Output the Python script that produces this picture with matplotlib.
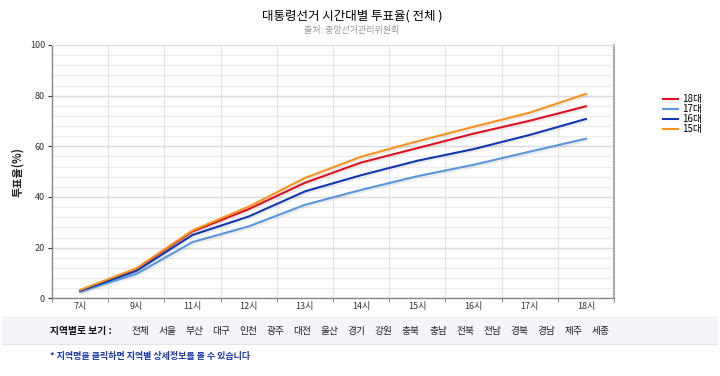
import numpy as np
import matplotlib
matplotlib.use("Agg")
import matplotlib.pyplot as plt
from matplotlib.patches import Rectangle

plt.rcParams['font.family'] = ['Noto Sans CJK KR', 'DejaVu Sans']

hours = ['7시', '9시', '11시', '12시', '13시', '14시', '15시', '16시', '17시', '18시']
t18 = [3.0, 11.6, 26.4, 35.2, 45.6, 53.6, 59.3, 65.0, 70.1, 75.8]
t17 = [2.7, 9.6, 22.2, 28.4, 36.9, 42.8, 48.2, 52.7, 57.9, 63.0]
t16 = [2.9, 10.8, 25.0, 32.3, 42.2, 48.6, 54.3, 58.9, 64.5, 70.8]
t15 = [3.3, 11.8, 26.8, 36.2, 47.5, 55.9, 62.0, 67.7, 73.3, 80.7]
series_names = ['18대', '17대', '16대', '15대']
regions = ['전체', '서울', '부산', '대구', '인천', '광주', '대전', '울산', '경기',
           '강원', '충북', '충남', '전북', '전남', '경북', '경남', '제주', '세종']

colors = ['#dd1122', '#5a96dc', '#1038b0', '#f7941d']

fig = plt.figure(figsize=(7.2, 3.76), dpi=100)
ax = fig.add_axes([52/720, 1-298.3/376, (614-52)/720, (298.3-45)/376])

x = np.arange(len(hours))
for vals, name, c in zip([t18, t17, t16, t15], series_names, colors):
    # faint shadow under each line
    ax.plot(x + 0.03, np.array(vals) - 0.6, color='#000000', alpha=0.07, lw=2.0, zorder=2)
    ax.plot(x, vals, color=c, lw=1.5, label=name, zorder=3)

ax.set_xlim(-0.5, len(hours) - 0.5)
ax.set_ylim(0, 100)
ax.set_yticks(np.arange(0, 101, 20))
ax.set_yticks(np.arange(0, 101, 4), minor=True)
ax.set_xticks(x)
ax.set_xticklabels(hours)
ax.set_xticks(np.arange(-0.5, len(hours), 1), minor=True)

ax.grid(False)
for v in np.arange(0, 101, 4):
    ax.axhline(v, color='#ececec', lw=0.9, zorder=0)
for v in np.arange(0, 101, 20):
    ax.axhline(v, color='#dcdcdc', lw=1.0, zorder=0)
for v in np.arange(0.5, len(hours) - 0.5, 1):
    ax.axvline(v, color='#e6e6e6', lw=1.0, zorder=0)

ax.tick_params(axis='x', which='major', length=0, labelsize=6.5, colors='#333333', pad=3)
ax.tick_params(axis='x', which='minor', length=3, color='#777777', direction='out')
ax.tick_params(axis='y', which='major', length=3, labelsize=6.5, colors='#333333', pad=2)
ax.tick_params(axis='y', which='minor', length=0)

for s in ['left', 'bottom']:
    ax.spines[s].set_color('#888888')
    ax.spines[s].set_linewidth(1.0)
ax.spines['top'].set_color('#e0e0e0')
ax.spines['right'].set_color('#aaaaaa')
ax.spines['right'].set_linewidth(1.5)

ax.set_ylabel('투표율(%)', fontsize=8, fontweight='bold', color='#222222')
ax.yaxis.set_label_coords(-0.05, 0.5)

leg = ax.legend(loc='upper left', bbox_to_anchor=(1.08, 0.82), frameon=False,
                fontsize=7, handlelength=1.6, handletextpad=0.4, labelspacing=0.0,
                borderaxespad=0)

fig.text(352/720, 1-16/376, '대통령선거 시간대별 투표율( 전체 )', ha='center', va='center',
         fontsize=9, color='#000000')
fig.text(352/720, 1-30/376, '출처: 중앙선거관리위원회', ha='center', va='center',
         fontsize=6.5, color='#999999')

# region selector band
fig.patches.append(Rectangle((2/720, 1-345/376), 716/720, 28/376, transform=fig.transFigure,
                             facecolor='#f4f5fa', edgecolor='none', zorder=0))
fig.patches.append(Rectangle((2/720, 1-345/376), 716/720, 0.6/376, transform=fig.transFigure,
                             facecolor='#e2e4ea', edgecolor='none', zorder=0))
fig.patches.append(Rectangle((2/720, 1-317.5/376), 716/720, 0.6/376, transform=fig.transFigure,
                             facecolor='#eceef3', edgecolor='none', zorder=0))
fig.text(50/720, 1-331/376, '지역별로 보기 :', ha='left', va='center', fontsize=7,
         fontweight='bold', color='#111111')
for i, r in enumerate(regions):
    fig.text((131 + i * 27.1)/720, 1-331/376, r, ha='left', va='center', fontsize=7,
             color='#222222')
fig.text(50/720, 1-357/376, '* 지역명을 클릭하면 지역별 상세정보를 볼 수 있습니다', ha='left',
         va='center', fontsize=6.5, fontweight='bold', color='#1a3aa8')

fig.savefig('out.png', dpi=100)
